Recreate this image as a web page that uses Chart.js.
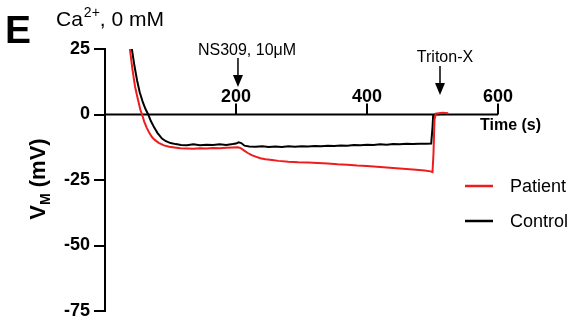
<!DOCTYPE html>
<html>
<head>
<meta charset="utf-8">
<script src="https://cdn.jsdelivr.net/npm/chart.js@4.4.1/dist/chart.umd.min.js"></script>
<style>
  html, body { margin: 0; padding: 0; background: #fff; }
  #wrap { position: relative; width: 571px; height: 327px; }
</style>
</head>
<body>
<div id="wrap"><canvas id="chart" width="571" height="327"></canvas></div>
<script>
// Membrane potential traces (time in s, V_M in mV)
const patientTime = [30, 34, 38, 42, 46, 50, 54, 57, 60, 64, 68, 72, 76, 82, 90, 98, 106, 115, 125,
  135, 145, 155, 165, 175, 185, 195, 203, 207,
  212, 218, 224, 230, 237, 245, 255, 265, 280, 295, 310, 325, 340, 355, 370, 385, 400, 415, 430,
  445, 460, 475, 488, 497, 500, 501.5, 503, 505, 510, 515, 520, 524];
const patientVm = [48, 35, 25, 17, 10.5, 6, 1.8, -0.4, -2.8, -5.2, -7.2, -8.7, -9.7, -10.8, -11.8, -12.3, -12.6, -12.9, -13.0,
  -13.1, -12.9, -13.0, -12.8, -12.9, -12.7, -12.6, -12.5, -12.8,
  -13.7, -14.7, -15.5, -16.1, -16.7, -17.1, -17.4, -17.7, -18.0, -18.2, -18.3, -18.5, -18.7, -19.0, -19.2, -19.5, -19.7, -19.9, -20.2,
  -20.5, -20.8, -21.1, -21.4, -21.7, -22.0, -15, -2, 0.3, 0.5, 0.7, 0.6, 0.5];

const controlTime = [33, 37, 41, 45, 49, 53, 58, 62, 66, 70, 75, 80, 87, 93, 100, 108, 116, 125,
  135, 145, 155, 165, 175, 185, 195, 200, 204, 208, 213, 220, 230, 240, 250, 260, 270, 280, 290, 300,
  310, 320, 330, 340, 350, 360, 370, 380, 390, 400, 410, 420, 430, 440, 450, 460, 470, 480, 490, 498,
  500, 501, 504, 508, 512];
const controlVm = [45, 33, 25, 18.5, 13, 8.5, 4.5, 2, 0, -2.5, -4.9, -7.0, -9.2, -10.2, -10.9, -11.3, -11.6, -11.7,
  -11.4, -11.7, -11.5, -11.6, -11.4, -11.6, -11.3, -11.1, -10.6, -10.9, -11.9, -12.2, -12.3, -12.1, -12.4, -12.2, -12.4, -12.1, -12.3, -12.1,
  -12.2, -12.0, -12.1, -11.9, -12.0, -11.8, -11.9, -11.6, -11.7, -11.5, -11.6, -11.4, -11.5, -11.3, -11.4, -11.2, -11.3, -11.2, -11.2, -11.1,
  -5, -0.5, 0, 0.2, 0.1];

const xTicks = [200, 400, 600];
const yTicks = [-75, -50, -25, 0, 25];

const seriesLabels = ['Patient', 'Control'];
const seriesColors = ['#ee1c1c', '#000000'];

const FONT = '"Liberation Sans", Arial, sans-serif';

function toPoints(ts, vs) {
  return ts.map((t, i) => ({ x: t, y: vs[i] }));
}

// Axis at y = 0, panel letter, title, arrows, legend
const decorations = {
  id: 'decorations',
  beforeDatasetsDraw(chart) {
    const ctx = chart.ctx;
    const xs = chart.scales.x;
    const y0 = chart.scales.y.getPixelForValue(0);
    ctx.save();
    ctx.strokeStyle = '#000';
    ctx.lineWidth = 2;
    ctx.beginPath();
    ctx.moveTo(xs.getPixelForValue(0), y0);
    ctx.lineTo(xs.getPixelForValue(600), y0);
    xTicks.forEach(t => {
      const px = xs.getPixelForValue(t);
      ctx.moveTo(px, y0);
      ctx.lineTo(px, y0 - 11);
    });
    ctx.stroke();
    ctx.fillStyle = '#000';
    ctx.font = 'bold 18px ' + FONT;
    ctx.textAlign = 'center';
    ctx.textBaseline = 'alphabetic';
    xTicks.forEach(t => {
      ctx.fillText(String(t), xs.getPixelForValue(t), y0 - 13);
    });
    ctx.font = 'bold 16px ' + FONT;
    ctx.textAlign = 'left';
    ctx.fillText('Time (s)', 480, y0 + 15);
    ctx.restore();
  },
  afterDraw(chart) {
    const ctx = chart.ctx;
    const xs = chart.scales.x;
    ctx.save();
    ctx.fillStyle = '#000';
    ctx.strokeStyle = '#000';

    // panel letter
    ctx.font = 'bold 39px ' + FONT;
    ctx.textAlign = 'left';
    ctx.textBaseline = 'alphabetic';
    ctx.fillText('E', 5, 43);

    // title Ca2+, 0 mM
    ctx.font = '21px ' + FONT;
    let x = 56;
    ctx.fillText('Ca', x, 26);
    x += ctx.measureText('Ca').width;
    ctx.font = '14px ' + FONT;
    ctx.fillText('2+', x + 1, 17);
    x += ctx.measureText('2+').width + 1;
    ctx.font = '21px ' + FONT;
    ctx.fillText(', 0 mM', x, 26);

    // y axis title V_M (mV)
    ctx.save();
    ctx.translate(45, 179);
    ctx.rotate(-Math.PI / 2);
    ctx.font = 'bold 22px ' + FONT;
    const wV = ctx.measureText('V').width;
    ctx.font = 'bold 14px ' + FONT;
    const wM = ctx.measureText('M').width;
    ctx.font = 'bold 22px ' + FONT;
    const wRest = ctx.measureText(' (mV)').width;
    let sx = -(wV + wM + wRest) / 2;
    ctx.textAlign = 'left';
    ctx.fillText('V', sx, 0);
    sx += wV;
    ctx.font = 'bold 14px ' + FONT;
    ctx.fillText('M', sx, 5);
    sx += wM;
    ctx.font = 'bold 22px ' + FONT;
    ctx.fillText(' (mV)', sx, 0);
    ctx.restore();

    // arrows with labels
    const arrow = (px, yTop, yBot) => {
      ctx.lineWidth = 1.5;
      ctx.beginPath();
      ctx.moveTo(px, yTop);
      ctx.lineTo(px, yBot - 10);
      ctx.stroke();
      ctx.beginPath();
      ctx.moveTo(px - 5, yBot - 12);
      ctx.lineTo(px + 5, yBot - 12);
      ctx.lineTo(px, yBot);
      ctx.closePath();
      ctx.fill();
    };
    ctx.font = '16px ' + FONT;
    ctx.textAlign = 'center';
    ctx.fillText('NS309, 10\u03bcM', 247, 55);
    arrow(xs.getPixelForValue(203), 58, 87);
    ctx.fillText('Triton-X', 445, 62);
    arrow(440, 66, 95);

    // legend
    ctx.textAlign = 'left';
    ctx.textBaseline = 'middle';
    ctx.font = '18px ' + FONT;
    const legendY = [186, 221];
    chart.data.datasets.forEach((ds, i) => {
      ctx.strokeStyle = ds.borderColor;
      ctx.lineWidth = 2.5;
      ctx.beginPath();
      ctx.moveTo(465, legendY[i]);
      ctx.lineTo(493, legendY[i]);
      ctx.stroke();
      ctx.fillStyle = '#000';
      ctx.fillText(ds.label, 510, legendY[i] + 1);
    });
    ctx.restore();
  }
};

new Chart(document.getElementById('chart'), {
  type: 'line',
  data: {
    datasets: [
      {
        label: seriesLabels[0],
        data: toPoints(patientTime, patientVm),
        borderColor: seriesColors[0],
        borderWidth: 2,
        pointRadius: 0,
        tension: 0
      },
      {
        label: seriesLabels[1],
        data: toPoints(controlTime, controlVm),
        borderColor: seriesColors[1],
        borderWidth: 2,
        pointRadius: 0,
        tension: 0
      }
    ]
  },
  options: {
    responsive: false,
    animation: false,
    devicePixelRatio: 1,
    layout: { padding: { left: 0, right: 73, top: 49, bottom: 16 } },
    plugins: {
      legend: { display: false },
      tooltip: { enabled: false }
    },
    scales: {
      x: {
        type: 'linear',
        min: 0,
        max: 600,
        display: false
      },
      y: {
        min: -75,
        max: 25,
        afterFit(scale) { scale.width = 105; },
        afterBuildTicks(scale) { scale.ticks = yTicks.map(v => ({ value: v })); },
        border: { display: true, color: '#000', width: 2 },
        grid: {
          display: true,
          drawOnChartArea: false,
          drawTicks: true,
          tickLength: 11,
          color: '#000',
          lineWidth: 2
        },
        ticks: {
          color: '#000',
          padding: 4,
          font: { family: FONT, size: 18, weight: 'bold' }
        }
      }
    }
  },
  plugins: [decorations]
});
</script>
</body>
</html>
